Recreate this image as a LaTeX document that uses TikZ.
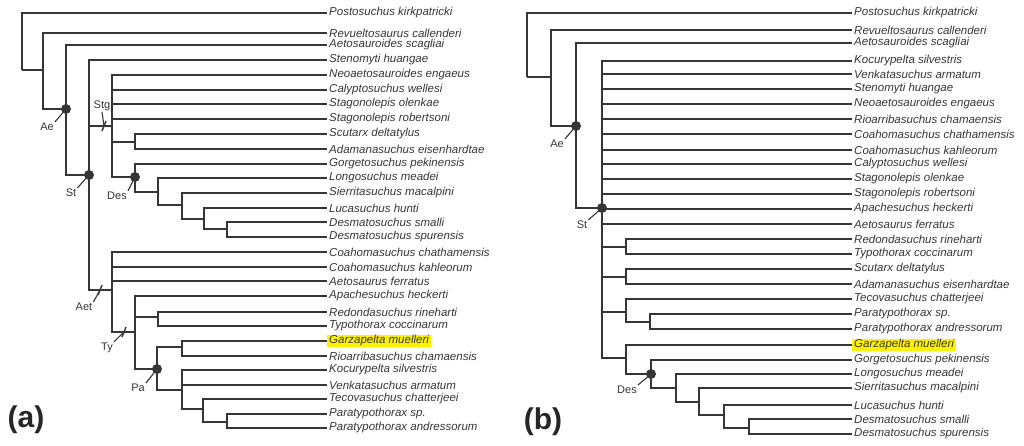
\documentclass[tikz,border=0pt]{standalone}
\usepackage{fontspec}
\setmainfont{Liberation Sans}
\definecolor{branch}{HTML}{363636}
\definecolor{hilite}{HTML}{FFF200}

\begin{document}
\begin{tikzpicture}[x=1pt,y=-1pt,
  branch/.style={draw=branch,line width=1.3pt},
  taxon/.style={anchor=west,inner xsep=2pt,inner ysep=1pt,text=branch,font=\fontsize{11.5}{13}\selectfont\itshape},
  clade/.style={text=branch,inner sep=1pt,font=\fontsize{11}{13}\selectfont},
  dot/.style={circle,fill=branch,inner sep=0pt,minimum size=10pt},
  leader/.style={draw=branch,line width=1.1pt},
  tickmark/.style={draw=branch,line width=1.4pt},
  panel/.style={text=black!85,font=\fontsize{30}{32}\selectfont\bfseries}]
\useasboundingbox (0,0) rectangle (1024,445);

% (a) taxa
\foreach \n/\y/\t in {a1/13/{Postosuchus kirkpatricki},a2/33/{Revueltosaurus callenderi},
  a3/45/{Aetosauroides scagliai},a4/60/{Stenomyti huangae},a5/75/{Neoaetosauroides engaeus},
  a6/90/{Calyptosuchus wellesi},a7/104/{Stagonolepis olenkae},a8/119/{Stagonolepis robertsoni},
  a9/134/{Scutarx deltatylus},a10/149/{Adamanasuchus eisenhardtae},a11/164/{Gorgetosuchus pekinensis},
  a12/178/{Longosuchus meadei},a13/193/{Sierritasuchus macalpini},a14/208/{Lucasuchus hunti},
  a15/222/{Desmatosuchus smalli},a16/237/{Desmatosuchus spurensis},a17/252/{Coahomasuchus chathamensis},
  a18/267/{Coahomasuchus kahleorum},a19/281/{Aetosaurus ferratus},a20/296/{Apachesuchus heckerti},
  a21/312/{Redondasuchus rineharti},a22/326/{Typothorax coccinarum},a24/356/{Rioarribasuchus chamaensis},
  a25/370/{Kocurypelta silvestris},a26/385/{Venkatasuchus armatum},a27/399/{Tecovasuchus chatterjeei},
  a28/414/{Paratypothorax sp.},a29/428/{Paratypothorax andressorum}}
  \node[taxon] (\n) at (327,\y) {\t};
\node[taxon,fill=hilite] (a23) at (327,341) {Garzapelta muelleri};

% (a) nodes
\coordinate (aR) at (22,70);
\coordinate (aA) at (43,70);
\coordinate (aAe) at (66,109);
\coordinate (aSt) at (89,175);
\coordinate (aStg) at (112,126);
\coordinate (aScu) at (135,142);
\coordinate (aDes) at (135,177);
\coordinate (aD1) at (158,192);
\coordinate (aD2) at (182,205);
\coordinate (aD3) at (204,219);
\coordinate (aD4) at (227,229);
\coordinate (aAet) at (112,290);
\coordinate (aTy) at (135,332);
\coordinate (aRed) at (158,317);
\coordinate (aPa) at (157,369);
\coordinate (aGar) at (182,347);
\coordinate (aKoc) at (182,390);
\coordinate (aTec) at (203,409);
\coordinate (aPar) at (227,422);

\foreach \p/\c in {aR/aA,aA/aAe,aAe/aSt,aSt/aStg,aSt/aAet,aStg/aScu,aStg/aDes,aDes/aD1,
  aD1/aD2,aD2/aD3,aD3/aD4,aAet/aTy,aTy/aRed,aTy/aPa,aPa/aGar,aPa/aKoc,aKoc/aTec,aTec/aPar}
  \draw[branch] (\p) |- (\c);
\foreach \p/\c in {aR/a1,aA/a2,aAe/a3,aSt/a4,aStg/a5,aStg/a6,aStg/a7,aStg/a8,aScu/a9,aScu/a10,
  aDes/a11,aD1/a12,aD2/a13,aD3/a14,aD4/a15,aD4/a16,aAet/a17,aAet/a18,aAet/a19,aTy/a20,
  aRed/a21,aRed/a22,aGar/a23,aGar/a24,aKoc/a25,aKoc/a26,aTec/a27,aPar/a28,aPar/a29}
  \draw[branch] (\p) |- (\c.west);

% (a) clade marks
\node[dot] (aAeDot) at (aAe) {};
\node[dot] (aStDot) at (aSt) {};
\node[dot] (aDesDot) at (aDes) {};
\node[dot] (aPaDot) at (aPa) {};
\coordinate (aStgT) at (104,126);
\coordinate (aAetT) at (100,290);
\coordinate (aTyT) at (124,332);
\foreach \t in {aStgT,aAetT,aTyT}
  \draw[tickmark] ([shift={(-2,5)}]\t) -- ([shift={(2,-5)}]\t);

\node[clade] (aAeL) at (47,127) {Ae};
\node[clade] (aStL) at (71,193) {St};
\node[clade] (aDesL) at (117,196) {Des};
\node[clade] (aPaL) at (138,388) {Pa};
\node[clade] (aStgL) at (102,106) {Stg};
\node[clade] (aAetL) at (84,307) {Aet};
\node[clade] (aTyL) at (107,348) {Ty};
\draw[leader] (aAeL.north east) -- (aAeDot.center);
\draw[leader] (aStL.north east) -- (aStDot.center);
\draw[leader] (aDesL.north east) -- (aDesDot.center);
\draw[leader] (aPaL.north east) -- (aPaDot.center);
\draw[leader] (aStgL.south) -- (aStgT);
\draw[leader] (aAetL.north east) -- (aAetT);
\draw[leader] (aTyL.north east) -- (aTyT);

% (b) taxa
\foreach \n/\y/\t in {b1/13/{Postosuchus kirkpatricki},b2/30/{Revueltosaurus callenderi},
  b3/43/{Aetosauroides scagliai},b4/61/{Kocurypelta silvestris},b5/74/{Venkatasuchus armatum},
  b6/89/{Stenomyti huangae},b7/104/{Neoaetosauroides engaeus},b8/119/{Rioarribasuchus chamaensis},
  b9/134/{Coahomasuchus chathamensis},b10/150/{Coahomasuchus kahleorum},b11/164/{Calyptosuchus wellesi},
  b12/179/{Stagonolepis olenkae},b13/194/{Stagonolepis robertsoni},b14/209/{Apachesuchus heckerti},
  b15/224/{Aetosaurus ferratus},b16/239/{Redondasuchus rineharti},b17/254/{Typothorax coccinarum},
  b18/269/{Scutarx deltatylus},b19/284/{Adamanasuchus eisenhardtae},b20/299/{Tecovasuchus chatterjeei},
  b21/314/{Paratypothorax sp.},b22/329/{Paratypothorax andressorum},b24/360/{Gorgetosuchus pekinensis},
  b25/374/{Longosuchus meadei},b26/388/{Sierritasuchus macalpini},b27/405/{Lucasuchus hunti},
  b28/419/{Desmatosuchus smalli},b29/434/{Desmatosuchus spurensis}}
  \node[taxon] (\n) at (852,\y) {\t};
\node[taxon,fill=hilite] (b23) at (852,345) {Garzapelta muelleri};

% (b) nodes
\coordinate (bR) at (527,77);
\coordinate (bA) at (551,77);
\coordinate (bAe) at (576,126);
\coordinate (bSt) at (602,208);
\coordinate (bRed) at (626,247);
\coordinate (bScu) at (626,277);
\coordinate (bTec) at (626,312);
\coordinate (bPar) at (650,322);
\coordinate (bGar) at (626,358);
\coordinate (bDes) at (651,374);
\coordinate (bD1) at (676,388);
\coordinate (bD2) at (699,402);
\coordinate (bD3) at (724,415);
\coordinate (bD4) at (749,428);

\foreach \p/\c in {bR/bA,bA/bAe,bAe/bSt,bSt/bRed,bSt/bScu,bSt/bTec,bSt/bGar,bTec/bPar,
  bGar/bDes,bDes/bD1,bD1/bD2,bD2/bD3,bD3/bD4}
  \draw[branch] (\p) |- (\c);
\foreach \p/\c in {bR/b1,bA/b2,bAe/b3,bSt/b4,bSt/b5,bSt/b6,bSt/b7,bSt/b8,bSt/b9,bSt/b10,
  bSt/b11,bSt/b12,bSt/b13,bSt/b14,bSt/b15,bRed/b16,bRed/b17,bScu/b18,bScu/b19,bTec/b20,
  bPar/b21,bPar/b22,bGar/b23,bDes/b24,bD1/b25,bD2/b26,bD3/b27,bD4/b28,bD4/b29}
  \draw[branch] (\p) |- (\c.west);

% (b) clade marks
\node[dot] (bAeDot) at (bAe) {};
\node[dot] (bStDot) at (bSt) {};
\node[dot] (bDesDot) at (bDes) {};
\node[clade] (bAeL) at (557,144) {Ae};
\node[clade] (bStL) at (582,225) {St};
\node[clade] (bDesL) at (627,390) {Des};
\draw[leader] (bAeL.north east) -- (bAeDot.center);
\draw[leader] (bStL.north east) -- (bStDot.center);
\draw[leader] (bDesL.north east) -- (bDesDot.center);

\node[panel] (panelA) at (26,420) {(a)};
\node[panel] (panelB) at (543,422) {(b)};
\end{tikzpicture}
\end{document}
